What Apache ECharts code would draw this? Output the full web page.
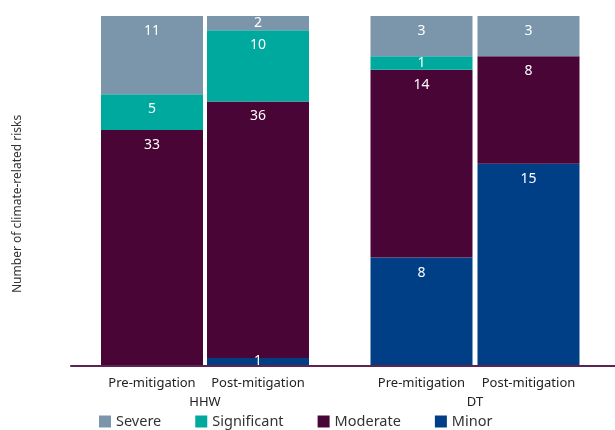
<!DOCTYPE html>
<html>
<head>
<meta charset="utf-8">
<script src="https://cdn.jsdelivr.net/npm/echarts@6/dist/echarts.min.js"></script>
<style>
  html, body { margin: 0; padding: 0; background: #ffffff; }
  #chart { width: 615px; height: 430px; }
</style>
</head>
<body>
<div id="chart"></div>
<script>
// Climate-related risk counts by rating, before and after mitigation
const stages = ['Pre-mitigation', 'Post-mitigation'];
const groups = ['HHW', 'DT'];
const ratings = ['Severe', 'Significant', 'Moderate', 'Minor'];

// HHW: [pre, post]
const hhwSevere = [11, 2];
const hhwSignificant = [5, 10];
const hhwModerate = [33, 36];
const hhwMinor = [0, 1];

// DT: [pre, post]
const dtSevere = [3, 3];
const dtSignificant = [1, 0];
const dtModerate = [14, 8];
const dtMinor = [8, 15];

const colors = {
  Severe: '#7b96aa',
  Significant: '#00a99d',
  Moderate: '#4a0537',
  Minor: '#003f86'
};

const FONT = 'Noto Sans';
const axisColor = '#5c2450';

const groupData = [
  { Severe: hhwSevere, Significant: hhwSignificant, Moderate: hhwModerate, Minor: hhwMinor },
  { Severe: dtSevere, Significant: dtSignificant, Moderate: dtModerate, Minor: dtMinor }
];

// each group is shown against its own total so both stacks fill the full height
function totals(g) {
  return stages.map((_, i) => ratings.reduce((s, r) => s + g[r][i], 0));
}

const grids = [
  { left: 99, width: 212, top: 16, bottom: 65 },
  { left: 368, width: 214, top: 16, bottom: 65 },
  { left: 71, right: 0, top: 16, bottom: 64 }   // baseline rule
];

const xAxes = groups.map((name, gi) => ({
  type: 'category',
  gridIndex: gi,
  data: stages,
  axisLine: { show: false },
  axisTick: { show: false },
  axisLabel: { interval: 0, margin: 12, color: '#222', fontSize: 13, fontFamily: FONT },
  name: name,
  nameLocation: 'middle',
  nameGap: 31,
  nameTextStyle: { color: '#222', fontSize: 13, fontFamily: FONT }
}));
xAxes.push({
  type: 'value',
  gridIndex: 2,
  min: 0, max: 1,
  axisLine: { show: true, onZero: false, lineStyle: { color: axisColor, width: 2 } },
  axisTick: { show: false },
  axisLabel: { show: false },
  splitLine: { show: false }
});

const yAxes = groupData.map((g, gi) => ({
  type: 'value',
  gridIndex: gi,
  min: 0,
  max: Math.max(...totals(g)),
  show: false
}));
yAxes.push({ type: 'value', gridIndex: 2, show: false, min: 0, max: 1 });

const series = [];
const stackOrder = ['Minor', 'Moderate', 'Significant', 'Severe'];
groupData.forEach((g, gi) => {
  const tot = totals(g);
  stackOrder.forEach(r => {
    series.push({
      name: r,
      type: 'bar',
      xAxisIndex: gi,
      yAxisIndex: gi,
      stack: 'g' + gi,
      barWidth: 102,
      itemStyle: { color: colors[r] },
      data: g[r].map((v, i) => ({
        value: v,
        label: { position: v / tot[i] < 0.06 ? 'inside' : 'insideTop' }
      })),
      label: {
        show: true,
        distance: 8,
        color: '#ffffff',
        fontSize: 14,
        fontFamily: FONT,
        formatter: p => (p.value ? String(p.value) : '')
      }
    });
  });
});

const chart = echarts.init(document.getElementById('chart'), null, { renderer: 'canvas' });
chart.setOption({
  animation: false,
  backgroundColor: '#ffffff',
  grid: grids,
  xAxis: xAxes,
  yAxis: yAxes,
  legend: {
    data: ratings,
    left: 99,
    top: 414,
    padding: 0,
    itemWidth: 12,
    itemHeight: 12,
    itemGap: 34,
    icon: 'rect',
    textStyle: { color: '#333', fontSize: 14.5, fontFamily: FONT }
  },
  graphic: [{
    type: 'text',
    x: 12,
    y: 293,
    rotation: Math.PI / 2,
    style: {
      text: 'Number of climate-related risks',
      fill: '#333',
      fontSize: 12,
      fontFamily: FONT
    }
  }],
  series: series
});
</script>
</body>
</html>
